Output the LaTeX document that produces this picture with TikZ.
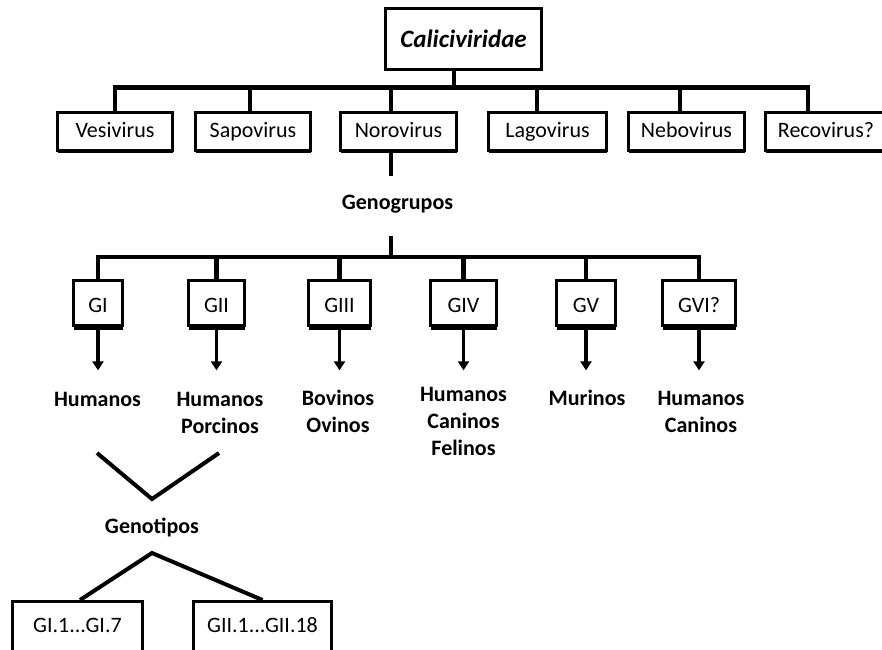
\documentclass[tikz,border=0pt]{standalone}
\usepackage{fontspec}
\setmainfont{Carlito}
\usetikzlibrary{arrows.meta,shadows}
\tikzset{
	taxonbox/.style={draw, line width=3pt, fill=white, inner sep=0pt},
	genusbox/.style={taxonbox, minimum height=37.8pt, text height=14pt, text depth=1pt,
		font=\fontsize{22}{26}\selectfont,
		drop shadow={shadow xshift=0pt, shadow yshift=-2.7pt, opacity=1, fill=black}},
	groupbox/.style={taxonbox, minimum height=45.3pt, text height=18pt, text depth=0pt,
		font=\fontsize{22}{26}\selectfont,
		drop shadow={shadow xshift=0pt, shadow yshift=-4.2pt, opacity=1, fill=black}},
	typebox/.style={taxonbox, minimum height=50pt, text height=13pt, text depth=2pt,
		font=\fontsize{22}{26}\selectfont},
	hostlabel/.style={anchor=north, inner sep=0pt, align=center, font=\bfseries\fontsize{22}{27}\selectfont},
	boldlabel/.style={anchor=base, inner sep=0pt, font=\bfseries\fontsize{22}{27}\selectfont},
	conn/.style={line width=4.5pt},
	thinconn/.style={line width=4pt},
	hostarrow/.style={line width=3.5pt, -{Triangle[width=11pt,length=9pt]}},
}

\begin{document}
\begin{tikzpicture}[x=1pt, y=-1pt]
			\useasboundingbox (0,0) rectangle (882,649);
			%%%%% FAMILY AND GENERA %%%%%
			
			\node[taxonbox, minimum width=156pt, minimum height=61pt, text height=17.4pt, text depth=0pt,
				font=\bfseries\itshape\fontsize{25}{30}\selectfont] (calici) at (463.5,39) {Caliciviridae};
			
			\node[genusbox, minimum width=115pt] (vesi) at (115,131.4) {Vesivirus};
			\node[genusbox, minimum width=115pt] (sapo) at (253,131.4) {Sapovirus};
			\node[genusbox, minimum width=116pt] (noro) at (398.5,131.4) {Norovirus};
			\node[genusbox, minimum width=118pt] (lago) at (547.5,131.4) {Lagovirus};
			\node[genusbox, minimum width=116pt] (nebo) at (686.5,131.4) {Nebovirus};
			\node[genusbox, minimum width=121pt] (reco) at (826,131.4) {Recovirus?};
			
			\coordinate (hubA) at (454,87.5);
			\draw[conn] (calici.south -| hubA) -- (hubA);
			\draw[conn] (vesi.north) |- (hubA) -| ([xshift=-18pt]reco.north);
			\foreach \n/\dx in {sapo/-3,noro/-7.5,lago/-10.5,nebo/-6.5}
				\draw[conn] ([xshift=\dx pt]\n.north) -- ([xshift=\dx pt]\n.north |- hubA);
			
			%%%%% GENOGROUPS %%%%%
			
			\coordinate (hubB) at (391,257);
			\draw[conn] (noro.south -| hubB) -- ++(0,24);
			\node[boldlabel] (genogrupos) at (397.5,209) {Genogrupos};
			\draw[conn] (hubB) -- ++(0,-21);
			
			\node[groupbox, minimum width=49pt] (gI) at (98,303.2) {GI};
			\node[groupbox, minimum width=56pt] (gII) at (216.5,303.2) {GII};
			\node[groupbox, minimum width=62pt] (gIII) at (339.5,303.2) {GIII};
			\node[groupbox, minimum width=66pt] (gIV) at (463.5,303.2) {GIV};
			\node[groupbox, minimum width=59pt] (gV) at (586,303.2) {GV};
			\node[groupbox, minimum width=73pt] (gVI) at (699,303.2) {GVI?};
			
			\draw[conn] (gI.north) |- (hubB) -| (gVI.north);
			\foreach \n in {gII,gIII,gIV,gV}
				\draw[conn] (\n.north) -- (\n.north |- hubB);
			\foreach \n in {gI,gII,gIII,gIV,gV,gVI}
				\draw[hostarrow] (\n.south) -- ++(0,43);
			
			\node[hostlabel] (hostI) at (97.5,392) {Humanos};
			\node[hostlabel] (hostII) at (220,392) {Humanos\\Porcinos};
			\node[hostlabel] (hostIII) at (338,389.5) {Bovinos\\Ovinos};
			\node[hostlabel] (hostIV) at (463.5,387) {Humanos\\Caninos\\Felinos};
			\node[hostlabel] (hostV) at (587,389.5) {Murinos};
			\node[hostlabel] (hostVI) at (701,391) {Humanos\\Caninos};
			
			%%%%% GENOTYPES %%%%%
			
			\coordinate (vleft) at (97,453);
			\coordinate (vtip) at (152,499);
			\coordinate (vright) at (219,453);
			\draw[thinconn] (vleft) -- (vtip) -- (vright);
			
			\node[boldlabel] (genotipos) at (152,533) {Genotipos};
			\coordinate (lamtop) at (152,553);
			
			\node[typebox, minimum width=130pt] (gtI) at (77.5,626.5) {GI.1...GI.7};
			\node[typebox, minimum width=138pt] (gtII) at (262.5,626.5) {GII.1...GII.18};
			\draw[thinconn] ([xshift=2.5pt]gtI.north) -- (lamtop) -- (gtII.north);
			
			%%%%% END %%%%%
\end{tikzpicture}
\end{document}
